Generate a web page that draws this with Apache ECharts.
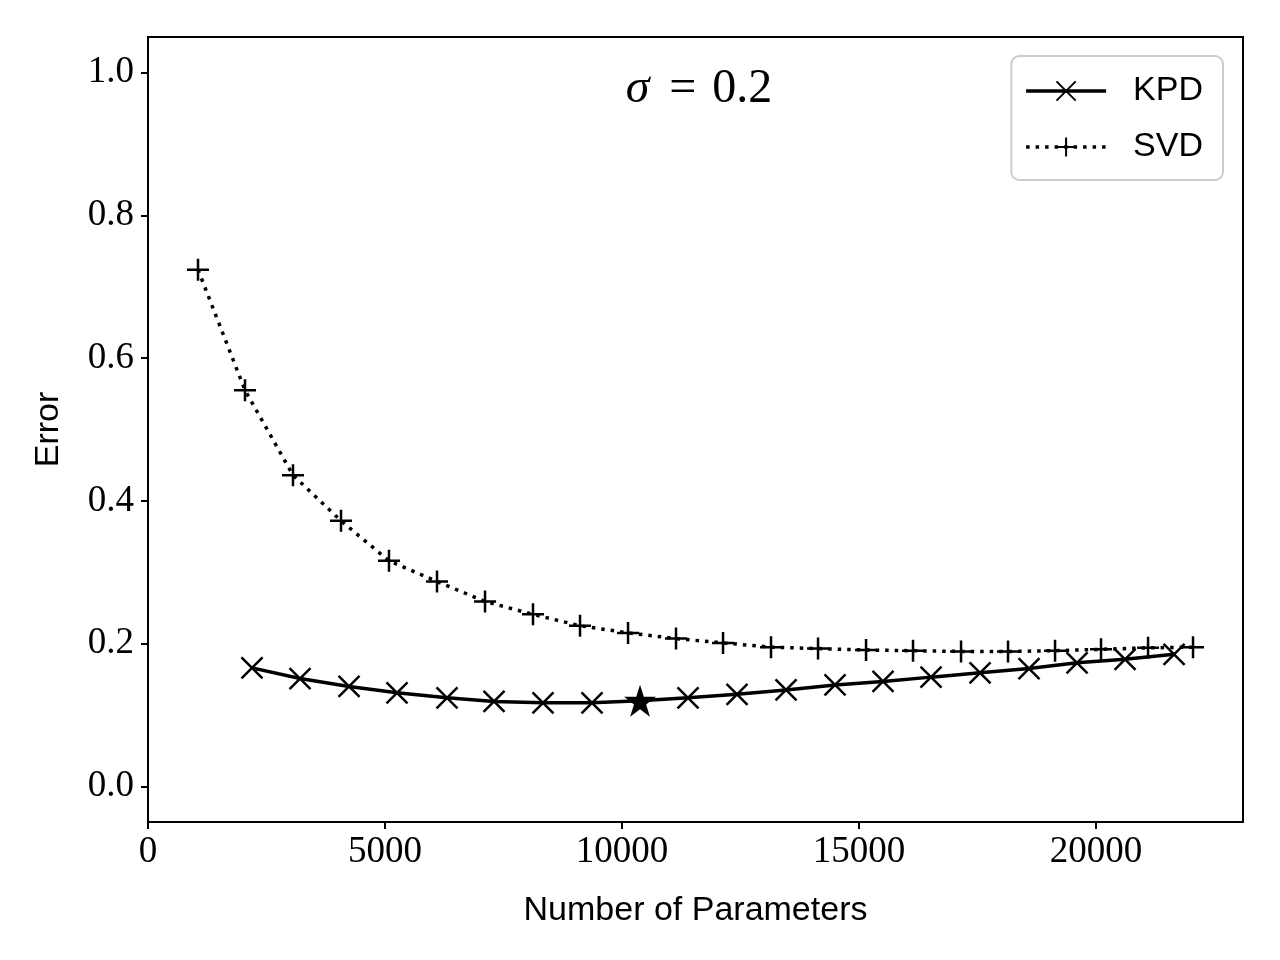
<!DOCTYPE html>
<html>
<head>
<meta charset="utf-8">
<script src="https://cdn.jsdelivr.net/npm/echarts@6/dist/echarts.min.js"></script>
<style>
  html, body { margin: 0; padding: 0; background: #fff; }
  #main { width: 1280px; height: 960px; }
</style>
</head>
<body>
<div id="main"></div>
<script>
// 数据
var svdParams = [1055, 2046, 3059, 4072, 5084, 6097, 7110, 8122, 9114, 10127, 11139,
                 12131, 13143, 14135, 15148, 16139, 17152, 18143, 19135, 20105, 21097, 22046];
var svdError = [0.724, 0.555, 0.436, 0.372, 0.316, 0.287, 0.259, 0.241, 0.225, 0.215, 0.207,
                0.201, 0.195, 0.193, 0.191, 0.190, 0.189, 0.189, 0.190, 0.192, 0.194, 0.195];

var kpdParams = [2194, 3207, 4241, 5253, 6308, 7300, 8333, 9367, 10380, 11392, 12426,
                 13460, 14494, 15506, 16519, 17553, 18586, 19599, 20612, 21646];
var kpdError = [0.166, 0.151, 0.140, 0.131, 0.124, 0.119, 0.117, 0.117, 0.120, 0.124, 0.129,
                0.135, 0.142, 0.147, 0.153, 0.159, 0.165, 0.173, 0.178, 0.185];

// 最优点（星号标记）
var bestParams = [10380];
var bestError = [0.120];

var xTicks = [0, 5000, 10000, 15000, 20000];
var yTicks = [0.0, 0.2, 0.4, 0.6, 0.8, 1.0];

function zip(xs, ys) {
    return xs.map(function(x, i) { return [x, ys[i]]; });
}

// KPD 数据：最优点处不画 x 标记，由星号代替
var kpdData = kpdParams.map(function(x, i) {
    if (bestParams.indexOf(x) >= 0) {
        return { value: [x, kpdError[i]], symbol: 'none' };
    }
    return [x, kpdError[i]];
});

var crossPath = 'path://M0,0L10,10M10,0L0,10';
var plusPath = 'path://M5,0L5,10M0,5L10,5';
var starPath = 'path://M50,0L61.8,36.2L100,36.2L69.1,58.8L80.9,95.1L50,72.7L19.1,95.1L30.9,58.8L0,36.2L38.2,36.2Z';

var serif = "'Liberation Serif', 'DejaVu Serif', serif";
var sans = "'Liberation Sans', 'DejaVu Sans', sans-serif";

var chart = echarts.init(document.getElementById('main'));

var option = {
    backgroundColor: '#fff',
    animation: false,
    title: {
        text: '{i|σ}{e|=}{n|0.2}',
        left: 694,
        top: 60,
        textAlign: 'center',
        textStyle: {
            fontWeight: 'normal',
            rich: {
                i: { fontFamily: serif, fontStyle: 'italic', fontWeight: 'normal', fontSize: 48, color: '#000' },
                e: { fontFamily: serif, fontWeight: 'normal', fontSize: 48, color: '#000', padding: [0, 16, 0, 20] },
                n: { fontFamily: serif, fontWeight: 'normal', fontSize: 48, color: '#000' }
            }
        }
    },
    legend: {
        right: 57,
        top: 56,
        orient: 'vertical',
        itemWidth: 80,
        itemHeight: 24,
        itemGap: 22,
        padding: [18, 20, 16, 13],
        borderColor: '#cccccc',
        borderWidth: 2,
        borderRadius: 8,
        backgroundColor: 'rgba(255,255,255,0.8)',
        textStyle: { fontFamily: sans, fontSize: 34, color: '#000', padding: [0, 0, 0, 22] },
        data: [
            { name: 'KPD', lineStyle: { width: 3.5 } },
            { name: 'SVD', lineStyle: { width: 3.5 } }
        ]
    },
    grid: {
        left: 148,
        right: 37,
        top: 37,
        bottom: 138,
        show: true,
        borderColor: '#000',
        borderWidth: 2,
        backgroundColor: 'transparent'
    },
    xAxis: {
        type: 'value',
        min: 0,
        max: 23100,
        name: 'Number of Parameters',
        nameLocation: 'middle',
        nameGap: 72,
        nameTextStyle: { fontFamily: sans, fontSize: 34, color: '#000' },
        axisLine: { show: false, onZero: false },
        splitLine: { show: false },
        axisTick: {
            show: true,
            length: 7,
            lineStyle: { color: '#000', width: 2 },
            customValues: xTicks
        },
        axisLabel: {
            fontFamily: serif,
            fontSize: 37,
            color: '#000',
            margin: 12,
            customValues: xTicks,
            formatter: function(v) { return String(v); }
        }
    },
    yAxis: {
        type: 'value',
        min: -0.05,
        max: 1.05,
        name: 'Error',
        nameLocation: 'middle',
        nameGap: 82,
        nameRotate: 90,
        nameTextStyle: { fontFamily: sans, fontSize: 34, color: '#000' },
        axisLine: { show: false, onZero: false },
        splitLine: { show: false },
        axisTick: {
            show: true,
            length: 7,
            lineStyle: { color: '#000', width: 2 },
            customValues: yTicks
        },
        axisLabel: {
            fontFamily: serif,
            fontSize: 37,
            color: '#000',
            margin: 14,
            customValues: yTicks,
            formatter: function(v) { return v.toFixed(1); }
        }
    },
    series: [
        {
            name: 'KPD',
            type: 'line',
            data: kpdData,
            symbol: crossPath,
            symbolSize: 21,
            showAllSymbol: true,
            itemStyle: { color: 'none', borderColor: '#000', borderWidth: 2.5 },
            lineStyle: { color: '#000', width: 3.5, type: 'solid' },
            z: 3
        },
        {
            name: 'SVD',
            type: 'line',
            data: zip(svdParams, svdError),
            symbol: plusPath,
            symbolSize: 22,
            showAllSymbol: true,
            itemStyle: { color: 'none', borderColor: '#000', borderWidth: 2.5 },
            lineStyle: { color: '#000', width: 3.5, type: [3.5, 6] },
            z: 2
        },
        {
            name: 'best',
            type: 'scatter',
            data: zip(bestParams, bestError),
            symbol: starPath,
            symbolSize: 32,
            itemStyle: { color: '#000', borderWidth: 0, opacity: 1 },
            z: 10,
            zlevel: 1
        }
    ]
};

chart.setOption(option);
</script>
</body>
</html>
